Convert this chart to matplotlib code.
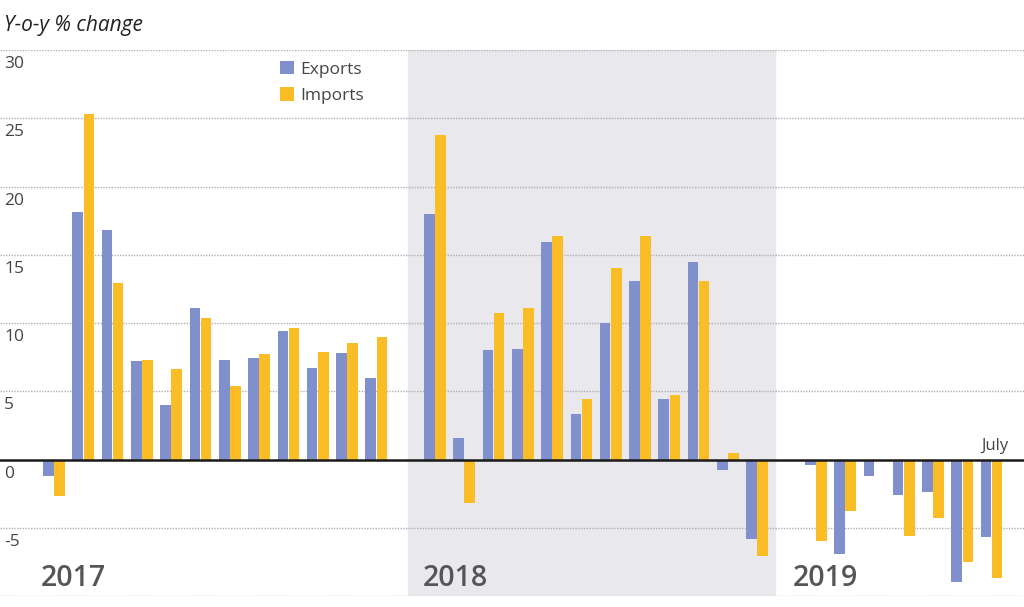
import numpy as np
import matplotlib.pyplot as plt

# y-o-y % change, monthly; slot gap between years
exports_2017 = [-1.2, 18.1, 16.8, 7.2, 4.0, 11.1, 7.3, 7.4, 9.4, 6.7, 7.8, 6.0]
imports_2017 = [-2.7, 25.3, 12.9, 7.3, 6.6, 10.4, 5.4, 7.7, 9.6, 7.9, 8.5, 9.0]
exports_2018 = [18.0, 1.6, 8.0, 8.1, 15.9, 3.3, 10.0, 13.1, 4.4, 14.5, -0.8, -5.8]
imports_2018 = [23.8, -3.2, 10.7, 11.1, 16.4, 4.4, 14.0, 16.4, 4.7, 13.1, 0.5, -7.1]
exports_2019 = [-0.4, -6.9, -1.2, -2.6, -2.4, -9.0, -5.7]
imports_2019 = [-6.0, -3.8, 0.0, -5.6, -4.3, -7.5, -8.7]

years = ["2017", "2018", "2019"]
yticks = [30, 25, 20, 15, 10, 5, 0, -5]

exports = exports_2017 + [np.nan] + exports_2018 + [np.nan] + exports_2019
imports = imports_2017 + [np.nan] + imports_2018 + [np.nan] + imports_2019
x = np.arange(len(exports))

c_exp = "#8090cc"
c_imp = "#fbbd26"
txt = "#454545"

fig = plt.figure(figsize=(10.24, 6.07), dpi=100)
ax = fig.add_axes([0, 11 / 607, 1, 546 / 607])
ax.set_xlim(-54 / 29.3, 970 / 29.3)
ax.set_ylim(-10, 30)
ax.axis("off")

# 2018 shading
ax.axvspan(12.08, 24.6, ymin=0, ymax=1, color="#e9e9ed", zorder=0)

for v in [30, 25, 20, 15, 10, 5, -5, -10]:
    ax.axhline(v, color="#b0b0b0", lw=1, ls=(0, (1, 1)), zorder=1)
ax.axhline(0, color="#1a1a1a", lw=1.8, zorder=4)

w = 0.36
ax.bar(x - 0.19, exports, w, color=c_exp, zorder=3, label="Exports")
ax.bar(x + 0.19, imports, w, color=c_imp, zorder=3, label="Imports")

for v in yticks:
    ax.text(4 / 1024, v - 0.45, str(v), transform=ax.get_yaxis_transform(),
            ha="left", va="top", fontsize=12.5, color=txt, family="Open Sans")

for yr, pos in zip(years, [-0.45, 12.6, 25.2]):
    ax.text(pos, -8.75, yr, ha="left", va="center", fontsize=20.5,
            fontweight="semibold", color="#555555", family="Open Sans")

ax.text(32.1, 0.4, "July", ha="center", va="bottom", fontsize=12,
        color=txt, family="Open Sans")

fig.text(4 / 1024, 1 - 26 / 607, "Y-o-y % change", ha="left", va="center",
         fontsize=15, style="italic", color="#222222", family="Open Sans")

leg = ax.legend(loc="upper left", bbox_to_anchor=(264 / 1024, 1 + 5 / 546),
                frameon=False, handlelength=0.85, handleheight=0.85,
                handletextpad=0.35, labelspacing=0.55,
                prop={"family": "Open Sans", "size": 12.5})
for t in leg.get_texts():
    t.set_color(txt)

fig.savefig("out.png", dpi=100)
